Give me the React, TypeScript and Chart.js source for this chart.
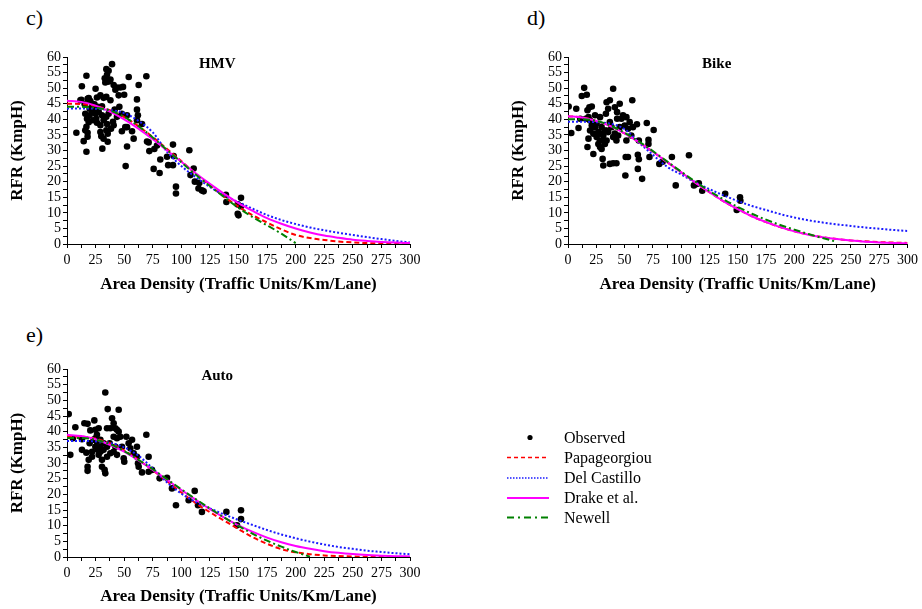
import React, { useEffect, useRef } from "react";
import { Chart, registerables } from "chart.js";
Chart.register(...registerables);

const SERIF = '"Liberation Serif", "Times New Roman", serif';

// shared x positions of model curves
const curveX = [0, 12.5, 25, 37.5, 50, 62.5, 75, 87.5, 100, 112.5, 125, 137.5, 150, 162.5, 175, 187.5, 200, 212.5, 225, 237.5, 250, 262.5, 275, 287.5, 300];

// HMV
const hmvPapageorgiou = [45, 44.9, 44.3, 42.9, 40.7, 37.8, 34.3, 30.5, 26.6, 22.6, 18.8, 15.2, 12.0, 9.2, 6.9, 4.7, 2.9, 1.9, 1.3, 0.8, 0.5, 0.3, 0.18, 0.1, 0.05];
const hmvDelCastillo = [43.5, 43.5, 43.4, 43.0, 42.0, 39.5, 35.8, 29.6, 25.0, 21.5, 18.3, 15.6, 13.4, 11.3, 9.3, 7.7, 6.4, 5.3, 4.4, 3.6, 2.9, 2.2, 1.6, 1.0, 0.5];
const hmvDrake = [46, 45.6, 44.4, 42.5, 40.0, 37.0, 33.6, 30.0, 26.4, 22.7, 19.3, 16.1, 13.1, 10.6, 8.3, 6.5, 4.95, 3.7, 2.7, 2.0, 1.4, 1.0, 0.68, 0.46, 0.3];
const hmvNewell = [44, 44, 43.7, 42.8, 40.8, 37.8, 34.2, 30.2, 26.2, 22.3, 18.6, 15.0, 11.6, 8.6, 6.0, 3.3, 0.3];
const hmvObserved: [number, number][] = [
  [8.2, 35.7], [13, 50.6], [12.5, 46.3], [17, 54], [17, 29.6], [18, 34.4], [14.6, 33], [19, 46.8], [25, 49.8], [22, 45],
  [39.4, 57.7], [34.4, 56.1], [36.4, 55.6], [35, 54.3], [33, 53.2], [38, 52.8], [33.5, 51.8], [36.4, 52.1], [54, 53.6], [69.4, 53.8],
  [40.8, 51], [43.7, 50.2], [46.6, 50.2], [49, 50.4], [42.3, 49.5], [62.7, 51], [45.2, 47.7], [50, 47.9], [61.2, 46.4], [26.2, 47],
  [29.2, 47.7], [32, 46.9], [34.4, 47.2], [38, 46.1], [26.8, 44], [30.6, 44.2], [24, 44.8], [20.4, 45.9], [18, 46.6], [11.7, 46.1],
  [15.5, 44.8], [45.8, 44], [52.5, 41.3], [61.2, 43.1], [62, 41.3], [61.2, 39.7], [48, 41.8], [43.7, 40.8], [41.7, 43.1], [36.4, 41.8],
  [34.4, 40.8], [30.6, 41.3], [27.7, 42.4], [25, 41.8], [21.9, 42.4], [19.8, 41.3], [17.5, 40.2], [16, 41.8], [19, 39.1], [22.7, 39.7],
  [26.2, 38.9], [29.2, 38.1], [25.6, 40.2], [23.3, 43.4], [19.8, 43.4], [32, 39.7], [35, 38.5], [40.2, 39.2], [40.8, 38.1], [38.5, 37],
  [34.4, 36.5], [35.6, 35.4], [29.2, 35.9], [30, 34.6], [30.9, 30.6], [32, 33.8], [35.6, 32.8], [17, 37.6], [16, 36.5], [18, 35.7],
  [51, 37.5], [52.5, 37.5], [52.5, 31.3], [51.3, 25], [58.3, 33.8], [56.9, 36.2], [48, 36.2], [65.6, 38.5], [70, 32.9], [71.4, 32.6],
  [72, 29.8], [76.4, 30.5], [78.7, 31.6], [75.8, 24.1], [81, 22.8], [81.6, 27.1], [87.5, 28], [88.5, 25.3], [92.7, 31.9], [92.7, 25.3],
  [93.3, 28.2], [95.3, 18.4], [95.3, 16.2], [107, 30.1], [108, 22.1], [110.8, 24.2], [111.8, 20], [115.7, 19.6], [115, 17.8], [118, 17.2],
  [119.5, 16.9], [139, 15.8], [139.4, 13.5], [149.3, 9.7], [150, 9.2], [152.2, 12.1], [152.2, 14.8], [149.3, 12.7],
];

// Bike
const bikePapageorgiou = [41, 40.6, 39.5, 37.8, 35.5, 32.7, 29.6, 26.3, 23.0, 19.7, 16.6, 13.7, 11.2, 8.9, 7.0, 5.4, 4.1, 3.0, 2.2, 1.6, 1.15, 0.85, 0.6, 0.45, 0.35];
const bikeDelCastillo = [39.2, 39.2, 39.1, 38.6, 36.9, 32.6, 28.6, 24.8, 22.3, 19.8, 17.6, 15.6, 13.8, 12.2, 10.9, 9.6, 8.5, 7.6, 6.9, 6.3, 5.8, 5.3, 4.9, 4.5, 4.2];
const bikeDrake = [41, 40.6, 39.5, 37.8, 35.5, 32.7, 29.6, 26.3, 23.0, 19.7, 16.6, 13.7, 11.2, 8.9, 7.0, 5.4, 4.05, 3.0, 2.2, 1.57, 1.1, 0.76, 0.52, 0.35, 0.23];
const bikeNewell = [40, 40, 39.5, 38, 35.7, 32.9, 29.8, 26.5, 23.2, 20, 17, 14.3, 11.9, 9.7, 7.8, 6.1, 4.6, 3.2, 1.9, 0.7];
const bikeObserved: [number, number][] = [
  [0.6, 44.1], [2.9, 35.6], [7.3, 43.4], [10.8, 40.2], [9.3, 37.2], [12.2, 47.5], [14.3, 50.1], [16.6, 47.9], [17.2, 42.9], [15.7, 40.2],
  [18.9, 43.9], [21, 44.1], [18.1, 33.8], [17.2, 31.1], [22.4, 28.9], [19.5, 36.4], [23.9, 41.3], [25.3, 38.6], [28.3, 40.7], [26.8, 35.9],
  [29.7, 37.5], [31.2, 34.8], [28.3, 33.2], [32.6, 32.1], [29.7, 30.5], [34.1, 33.2], [35.5, 35.9], [37, 39.1], [33.5, 41.8], [35.5, 43.4],
  [37, 46.1], [34.1, 45.5], [39.9, 49.8], [41.4, 43.9], [43.4, 42.3], [45.7, 45], [43.4, 40.2], [45.7, 37.5], [41.4, 35.4], [44.3, 34.8],
  [47.2, 40.2], [48.6, 41.3], [51.6, 40.7], [50.1, 38], [53, 37], [54.5, 39.1], [56.8, 46.1], [57.4, 37.5], [55.9, 34.8], [51.6, 33.2],
  [51, 27.9], [53, 27.9], [50.7, 22], [39.9, 25.9], [42.8, 25.9], [37, 25.7], [31.2, 25.2], [30.6, 27.3], [60.9, 38.4], [62.6, 33.2],
  [61.7, 28.6], [62.6, 27.2], [61.7, 24.1], [65.5, 20.9], [69.6, 38.8], [71.1, 33.4], [71.1, 32.1], [72, 27.9], [75.7, 36.6], [80.7, 25.7],
  [83.6, 26.4], [91.8, 27.9], [95.2, 18.8], [106.9, 28.5], [111.3, 18.8], [114.2, 19.3], [115.6, 19.5], [118.6, 17.1], [138.9, 16.1], [149.1, 10.9],
  [152, 15], [152.3, 13.9], [22.4, 35.4], [25.3, 34.3], [23.9, 37.5], [26.8, 32.1], [28.3, 31.1], [31.2, 33.2], [32.6, 36.4], [19.5, 39.6],
  [21, 38], [18.1, 40.7], [28.3, 35.4], [34.1, 36.4], [38.4, 37.5], [39.9, 34.3], [42.8, 33.2],
];

// Auto
const autoPapageorgiou = [38.5, 38.4, 37.8, 36.3, 34.0, 31.0, 27.7, 24.2, 20.6, 17.2, 14.3, 11.6, 8.9, 6.3, 4.2, 2.5, 1.5, 0.9, 0.5, 0.3, 0.15, 0.08, 0.04, 0.02, 0.01];
const autoDelCastillo = [37.0, 37.0, 36.9, 36.4, 35.0, 32.3, 28.3, 23.8, 20.2, 17.6, 15.5, 13.6, 11.8, 10.2, 8.6, 7.2, 6.0, 4.9, 4.0, 3.2, 2.6, 2.0, 1.6, 1.2, 0.9];
const autoDrake = [39, 38.6, 37.6, 35.8, 33.6, 30.8, 27.8, 24.6, 21.4, 18.3, 15.3, 12.6, 10.1, 8.0, 6.2, 4.7, 3.5, 2.6, 1.87, 1.32, 0.92, 0.63, 0.42, 0.27, 0.18];
const autoNewell = [38, 38, 37.4, 36, 33.8, 31, 28, 24.8, 21.6, 18.5, 15.5, 12.6, 9.9, 7.4, 5.2, 3.3, 1.6, 0.1];
const autoObserved: [number, number][] = [
  [1.5, 45.6], [2.9, 32.6], [7.3, 41.4], [13.1, 37.6], [13.1, 34.2], [15.2, 42.7], [18, 42.5], [16.9, 33.3], [18, 28.8], [18, 27.5],
  [20.4, 40.4], [19.8, 36.3], [21.9, 33.6], [23.9, 43.6], [24.8, 40.6], [26.2, 39], [27.7, 41.1], [24.8, 35.2], [26.8, 34.2], [29.2, 35.2],
  [27.7, 32.6], [30.6, 31], [30.6, 28.8], [32.9, 27.8], [33.5, 26.7], [33.5, 52.5], [35.6, 47.2], [45.2, 47], [35, 41.1], [37.9, 41.1],
  [39.4, 44.3], [40.8, 42.7], [42.3, 41.1], [43.7, 40.6], [45.2, 40], [40.8, 38.4], [37.3, 36.3], [37.9, 33.1], [35, 32], [42.3, 35.2],
  [43.7, 32.6], [46.6, 38.4], [48.1, 35.2], [49.6, 31.5], [50.1, 30.4], [51.9, 38.4], [53.9, 36.3], [56.9, 37.4], [55.4, 34.7], [58.3, 33.1],
  [61.2, 35.2], [61.2, 32], [62.1, 29.9], [62.7, 28.8], [65.6, 27], [69.4, 39], [71.4, 32], [71.4, 27.2], [74.3, 27.8], [81, 25.1],
  [87.5, 25.3], [91.8, 21.9], [95.3, 16.5], [106.4, 18.1], [111.7, 21.1], [114.6, 16.5], [118, 14.4], [139.4, 14.4], [148.7, 10.1], [152.2, 12.1],
  [152.2, 14.9], [5.2, 37.9], [23.3, 37.4], [26.2, 36.8], [29.2, 37.4], [32, 36.3], [32, 34.2], [29.2, 33.6], [21.9, 32], [19, 31],
  [24.8, 37.9], [35, 35.2], [40.8, 33.6], [43.7, 37.9],
];

type Layout = { left: number; top: number; width: number; height: number; padTop: number; padRight: number; xAxisH: number };

function curve(values: number[]) {
  return values.map((y, i) => ({ x: curveX[i], y }));
}

function Panel(props: {
  layout: Layout;
  title: string;
  observed: [number, number][];
  pap: number[];
  del: number[];
  drake: number[];
  newell: number[];
}) {
  const ref = useRef<HTMLCanvasElement>(null);
  const { layout } = props;
  useEffect(() => {
    const titleText = props.title;
    const titlePlugin = {
      id: "panelTitle",
      afterDatasetsDraw(chart: any) {
        const { ctx, chartArea } = chart;
        ctx.save();
        ctx.font = `bold 15px ${SERIF}`;
        ctx.fillStyle = "#000";
        ctx.textAlign = "center";
        ctx.textBaseline = "middle";
        ctx.fillText(titleText, chartArea.left + 0.438 * (chartArea.right - chartArea.left), chartArea.top + 7);
        ctx.restore();
      },
    };
    const tickFont = { family: SERIF, size: 14 };
    const titleFont = { family: SERIF, size: 17, weight: "bold" as const };
    const chart = new Chart(ref.current!, {
      type: "scatter",
      data: {
        datasets: [
          {
            label: "Observed",
            data: props.observed.map(([x, y]) => ({ x, y })),
            backgroundColor: "#000",
            borderColor: "#000",
            pointRadius: 3.3,
            pointBorderWidth: 0,
            showLine: false,
            order: 5,
          },
          {
            label: "Papageorgiou",
            data: curve(props.pap),
            showLine: true,
            borderColor: "#ff0000",
            borderWidth: 2,
            borderDash: [5, 3],
            pointRadius: 0,
            cubicInterpolationMode: "monotone",
            order: 4,
          },
          {
            label: "Del Castillo",
            data: curve(props.del),
            showLine: true,
            borderColor: "#1a1aff",
            borderWidth: 2,
            borderDash: [2, 2],
            pointRadius: 0,
            cubicInterpolationMode: "monotone",
            order: 3,
          },
          {
            label: "Drake et al.",
            data: curve(props.drake),
            showLine: true,
            borderColor: "#ff00ff",
            borderWidth: 2,
            pointRadius: 0,
            cubicInterpolationMode: "monotone",
            order: 2,
          },
          {
            label: "Newell",
            data: curve(props.newell),
            showLine: true,
            borderColor: "#008000",
            borderWidth: 2,
            borderDash: [7, 3, 2, 3],
            pointRadius: 0,
            cubicInterpolationMode: "monotone",
            order: 1,
          },
        ],
      },
      options: {
        animation: false,
        responsive: false,
        maintainAspectRatio: false,
        layout: { padding: { top: layout.padTop, right: layout.padRight, bottom: 0, left: 0 } },
        plugins: { legend: { display: false }, tooltip: { enabled: false }, title: { display: false } },
        scales: {
          x: {
            type: "linear",
            min: 0,
            max: 300,
            ticks: {
              stepSize: 12.5,
              autoSkip: false,
              maxRotation: 0,
              padding: 4,
              color: "#000",
              font: tickFont,
              callback: (v: any) => (Number(v) % 25 === 0 ? String(v) : ""),
            },
            grid: { display: true, drawOnChartArea: false, drawTicks: true, tickLength: 4, color: "#000" },
            border: { display: true, color: "#000", width: 1 },
            title: {
              display: true,
              text: "Area Density (Traffic Units/Km/Lane)",
              color: "#000",
              font: titleFont,
              padding: 0,
            },
            afterFit: (s: any) => {
              s.height = layout.xAxisH;
            },
          },
          y: {
            type: "linear",
            min: 0,
            max: 60,
            ticks: {
              stepSize: 2.5,
              autoSkip: false,
              padding: 2,
              color: "#000",
              font: tickFont,
              callback: (v: any) => (Number(v) % 5 === 0 ? String(v) : ""),
            },
            grid: { display: true, drawOnChartArea: false, drawTicks: true, tickLength: 4, color: "#000" },
            border: { display: true, color: "#000", width: 1 },
            title: {
              display: true,
              text: "RFR (KmpH)",
              color: "#000",
              font: titleFont,
              padding: { top: 7, bottom: 0 },
            },
            afterFit: (s: any) => {
              s.width = 67;
            },
          },
        },
      } as any,
      plugins: [titlePlugin],
    });
    return () => chart.destroy();
  }, []);
  return (
    <canvas
      ref={ref}
      width={layout.width}
      height={layout.height}
      style={{ position: "absolute", left: layout.left, top: layout.top, width: layout.width, height: layout.height }}
    />
  );
}

const legendItems = ["Observed", "Papageorgiou", "Del Castillo", "Drake et al.", "Newell"];
const legendRowY = [437.5, 457.5, 478, 498, 517.5];

function Legend() {
  return (
    <>
      <svg style={{ position: "absolute", left: 0, top: 0 }} width={922} height={609}>
        <circle cx={530} cy={legendRowY[0]} r={2.6} fill="#000" />
        <line x1={507} x2={549} y1={legendRowY[1]} y2={legendRowY[1]} stroke="#ff0000" strokeWidth={1.6} strokeDasharray="4 3" />
        <line x1={507} x2={549} y1={legendRowY[2]} y2={legendRowY[2]} stroke="#1a1aff" strokeWidth={1.6} strokeDasharray="1.5 1.5" />
        <line x1={507} x2={549} y1={legendRowY[3]} y2={legendRowY[3]} stroke="#ff00ff" strokeWidth={2} />
        <line x1={507} x2={549} y1={legendRowY[4]} y2={legendRowY[4]} stroke="#008000" strokeWidth={2} strokeDasharray="7 4 2 4" />
      </svg>
      {legendItems.map((t, i) => (
        <div
          key={t}
          style={{
            position: "absolute",
            left: 564,
            top: legendRowY[i] - 10,
            height: 20,
            lineHeight: "20px",
            fontFamily: SERIF,
            fontSize: 16,
            color: "#000",
            whiteSpace: "nowrap",
          }}
        >
          {t}
        </div>
      ))}
    </>
  );
}

const labelStyle = (left: number, top: number): React.CSSProperties => ({
  position: "absolute",
  left,
  top,
  fontFamily: SERIF,
  fontSize: 22,
  lineHeight: "26px",
  color: "#000",
});

export default function App() {
  return (
    <div style={{ position: "absolute", left: 0, top: 0, width: 922, height: 609, overflow: "hidden", background: "#fff" }}>
      <div style={labelStyle(26, 5)}>c)</div>
      <div style={labelStyle(527, 5)}>d)</div>
      <div style={labelStyle(26, 322)}>e)</div>
      <Panel
        layout={{ left: 0, top: 40, width: 440, height: 255, padTop: 17, padRight: 30, xAxisH: 51 }}
        title="HMV"
        observed={hmvObserved}
        pap={hmvPapageorgiou}
        del={hmvDelCastillo}
        drake={hmvDrake}
        newell={hmvNewell}
      />
      <Panel
        layout={{ left: 501, top: 40, width: 421, height: 255, padTop: 17, padRight: 11, xAxisH: 51 }}
        title="Bike"
        observed={bikeObserved}
        pap={bikePapageorgiou}
        del={bikeDelCastillo}
        drake={bikeDrake}
        newell={bikeNewell}
      />
      <Panel
        layout={{ left: 0, top: 352, width: 440, height: 255, padTop: 17, padRight: 30, xAxisH: 50 }}
        title="Auto"
        observed={autoObserved}
        pap={autoPapageorgiou}
        del={autoDelCastillo}
        drake={autoDrake}
        newell={autoNewell}
      />
      <Legend />
    </div>
  );
}
